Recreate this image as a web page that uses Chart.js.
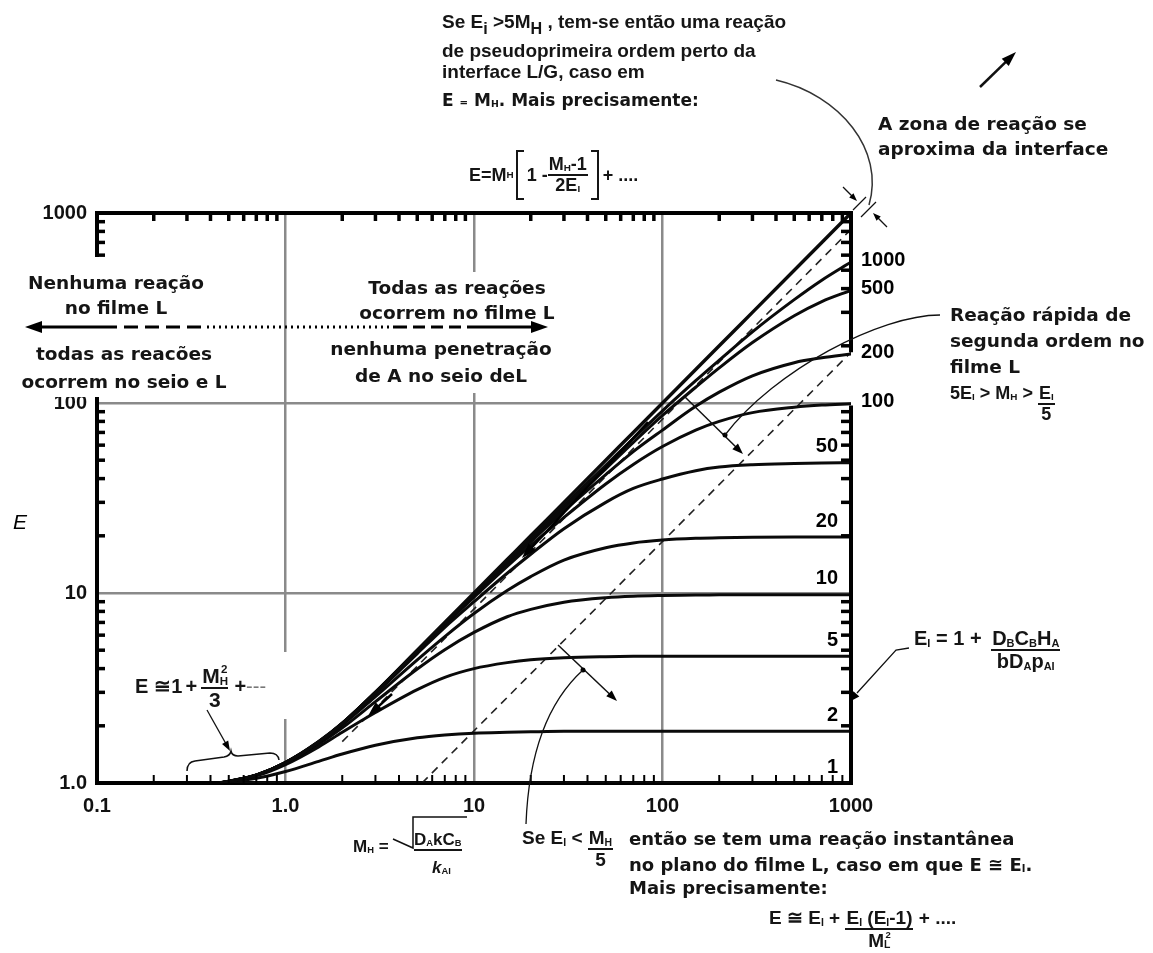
<!DOCTYPE html>
<html>
<head>
<meta charset="utf-8">
<script src="https://cdn.jsdelivr.net/npm/chart.js@4.4.1/dist/chart.umd.min.js"></script>
<style>
  html, body { margin: 0; padding: 0; background: #fff; }
  #wrap { position: relative; width: 1153px; height: 953px; overflow: hidden; }
  #chart { position: absolute; left: 0; top: 0; }
  .t { position: absolute; white-space: nowrap; color: #151515; line-height: 1; }
  .ls { font-family: "Liberation Sans", Arial, sans-serif; font-weight: bold; }
  .dv { font-family: "DejaVu Sans", sans-serif; font-weight: bold; }
  .t sub { font-size: 0.55em; vertical-align: -0.15em; line-height: 0; }
  .big sub { font-size: 0.85em; vertical-align: -0.35em; }
  .fr { display: inline-flex; flex-direction: column; align-items: center; line-height: 1.05; }
  .fr > span:first-child { border-bottom: 2px solid #151515; padding: 0 1px; }
  .mid { vertical-align: middle; }
  .top { vertical-align: top; }
  .brk { display: inline-block; width: 6px; height: 46px; border: 2px solid #151515; vertical-align: middle; }
  .brk.l { border-right: none; margin: 0 3px 0 2px; }
  .brk.r { border-left: none; margin: 0 4px 0 3px; }
  .c { text-align: center; }
</style>
</head>
<body>
<div id="wrap">
  <canvas id="chart" width="1153" height="953"></canvas>

  <div class="t ls big" style="left:442px;top:12px;font-size:19px">Se E<sub>i</sub> &gt;5M<sub>H</sub> , tem-se então uma reação</div>
  <div class="t ls" style="left:442px;top:41px;font-size:19px">de pseudoprimeira ordem perto da</div>
  <div class="t ls" style="left:442px;top:62px;font-size:19px">interface L/G, caso em</div>
  <div class="t dv" style="left:442px;top:92px;font-size:17px">E <span style="font-size:0.6em">=</span> M<sub>H</sub>. Mais precisamente:</div>
  <div class="t ls" style="left:469px;top:150px;font-size:18px;height:50px;display:flex;align-items:center">
    E=M<sub>H</sub><span class="brk l"></span>1 - <span class="fr"><span>M<sub>H</sub>-1</span><span>2E<sub>I</sub></span></span><span class="brk r"></span>+ ....
  </div>

  <div class="t dv" style="left:878px;top:111px;font-size:18.5px;line-height:25px">A zona de reação se<br>aproxima da interface</div>

  <div class="t dv c" style="left:1px;top:270px;width:230px;font-size:18.5px;line-height:25px">Nenhuma reação<br>no filme L</div>
  <div class="t dv c" style="left:9px;top:340px;width:230px;font-size:18.5px;line-height:28px">todas as reacões<br>ocorrem no seio e L</div>
  <div class="t dv c" style="left:342px;top:275px;width:230px;font-size:18.5px;line-height:25px">Todas as reações<br>ocorrem no filme L</div>
  <div class="t dv c" style="left:326px;top:335px;width:230px;font-size:18.5px;line-height:27px">nenhuma penetração<br>de A no seio deL</div>

  <div class="t dv" style="left:950px;top:302px;font-size:18.5px;line-height:26px">Reação rápida de<br>segunda ordem no<br>filme L</div>
  <div class="t ls" style="left:950px;top:384px;font-size:18px">5E<sub>I</sub> &gt; M<sub>H</sub> &gt; <span class="fr top"><span>E<sub>I</sub></span><span>5</span></span></div>

  <div class="t ls" style="left:914px;top:628px;font-size:20px">E<sub>I</sub> = 1 + <span class="fr top" style="margin-left:4px"><span>D<sub>B</sub>C<sub>B</sub>H<sub>A</sub></span><span>bD<sub>A</sub>p<sub>AI</sub></span></span></div>

  <div class="t ls" style="left:135px;top:663px;font-size:20px">E<span style="margin-left:6px">≅</span>1<span style="margin:0 4px 0 3px">+</span><span class="fr mid" style="font-size:21px"><span>M<sub>H</sub><sup style="font-size:0.55em;margin-left:-7px;vertical-align:0.9em">2</sup></span><span>3</span></span><span style="margin-left:6px">+</span><span style="color:#777;font-weight:normal">---</span></div>

  <div class="t ls" style="left:353px;top:838px;font-size:17px">M<sub>H</sub> =</div>
  <div class="t ls" style="left:414px;top:831px;font-size:17px;border-bottom:2px solid #151515;padding-bottom:1px">D<sub>A</sub>kC<sub>B</sub></div>
  <div class="t ls" style="left:432px;top:859px;font-size:17px;font-style:italic">k<sub style="font-style:normal">AI</sub></div>

  <div class="t ls" style="left:522px;top:828px;font-size:19px">Se E<sub>I</sub> &lt; <span class="fr top"><span>M<sub>H</sub></span><span>5</span></span></div>
  <div class="t dv" style="left:629px;top:830px;font-size:18px">então se tem uma reação instantânea</div>
  <div class="t dv" style="left:629px;top:856px;font-size:18px">no plano do filme L, caso em que E ≅ E<sub>I</sub>.</div>
  <div class="t dv" style="left:629px;top:879px;font-size:18px">Mais precisamente:</div>
  <div class="t ls" style="left:769px;top:908px;font-size:19px">E ≅ E<sub>I</sub> + <span class="fr top"><span>E<sub>I</sub> (E<sub>I</sub>-1)</span><span>M<sub>L</sub><sup style="font-size:0.5em;margin-left:-5px;vertical-align:0.9em">2</sup></span></span> + ....</div>
</div>

<script>
// Hatta number M_H at which each curve is read
const mH = [0.45, 0.7, 1, 1.5, 2, 3, 5, 7, 10, 15, 20, 30, 50, 70, 100, 150, 200, 300, 500, 700, 1000];

// enhancement factor E along each curve, one list per value of E_i
const eInf  = [1.0, 1.1, 1.28, 1.65, 2.06, 3.0, 5.0, 7.0, 10, 15, 20, 30, 50, 70, 100, 150, 200, 300, 500, 700, 1000];
const e1000 = [1.0, 1.1, 1.28, 1.65, 2.06, 3.0, 4.98, 6.97, 9.85, 14.7, 19.4, 28.8, 47, 65, 91, 131, 168, 237, 350, 443, 552];
const e500  = [1.0, 1.1, 1.28, 1.65, 2.06, 3.0, 4.97, 6.95, 9.8, 14.5, 19.2, 28, 45, 62, 86, 121, 153, 208, 288, 342, 392];
const e200  = [1.0, 1.1, 1.28, 1.64, 2.06, 3.0, 4.95, 6.9, 9.6, 14.2, 18.6, 27, 42, 55.5, 72, 96, 114, 139, 163, 173, 181];
const e100  = [1.0, 1.1, 1.28, 1.64, 2.06, 3.0, 4.9, 6.8, 9.5, 13.8, 17.8, 25, 37.5, 47.5, 59, 72, 80, 89, 95, 97.5, 99];
const e50   = [1.0, 1.1, 1.28, 1.64, 2.05, 2.95, 4.8, 6.6, 9.0, 12.7, 16.0, 21.8, 30, 35.5, 39.8, 44, 46, 47.3, 48, 48.3, 48.5];
const e20   = [1.0, 1.1, 1.28, 1.63, 2.02, 2.85, 4.45, 5.9, 7.8, 10.3, 12.2, 14.9, 17.3, 18.35, 19.0, 19.4, 19.55, 19.65, 19.7, 19.7, 19.7];
const e10   = [1.0, 1.1, 1.27, 1.6, 1.95, 2.68, 3.98, 5.03, 6.2, 7.5, 8.2, 8.95, 9.45, 9.62, 9.7, 9.75, 9.8, 9.8, 9.8, 9.8, 9.8];
const e5    = [1.0, 1.09, 1.25, 1.55, 1.85, 2.35, 3.1, 3.6, 4.0, 4.3, 4.45, 4.56, 4.62, 4.64, 4.65, 4.65, 4.65, 4.65, 4.65, 4.65, 4.65];
const e2    = [1.0, 1.06, 1.15, 1.3, 1.42, 1.58, 1.73, 1.79, 1.83, 1.85, 1.86, 1.87, 1.87, 1.87, 1.87, 1.87, 1.87, 1.87, 1.87, 1.87, 1.87];
const e1    = [1, 1, 1, 1, 1, 1, 1, 1, 1, 1, 1, 1, 1, 1, 1, 1, 1, 1, 1, 1, 1];

// dashed boundary lines (E_i = 5 M_H locus and E = M_H / 5)
const upperDashM = [2, 1000];
const upperDashE = [1.65, 820];
const lowerDashM = [5.3, 1000];
const lowerDashE = [1, 185];

// axis labels
const xTicks = [0.1, 1, 10, 100, 1000];
const xTickText = ['0.1', '1.0', '10', '100', '1000'];
const yTicks = [1, 10, 100, 1000];
const yTickText = ['1.0', '10', '100', '1000'];
const gridAt = [1, 10, 100];

const pts = (xs, ys) => xs.map((v, i) => ({ x: v, y: ys[i] }));

const curves = [
  { tag: null,   vals: eInf,  w: 3.4 },
  { tag: '1000', vals: e1000, out: true },
  { tag: '500',  vals: e500,  out: true },
  { tag: '200',  vals: e200,  out: true },
  { tag: '100',  vals: e100,  out: true },
  { tag: '50',   vals: e50 },
  { tag: '20',   vals: e20 },
  { tag: '10',   vals: e10 },
  { tag: '5',    vals: e5 },
  { tag: '2',    vals: e2 },
  { tag: '1',    vals: e1 }
];

const datasets = curves.map(c => ({
  data: pts(mH, c.vals),
  tag: c.tag,
  out: !!c.out,
  borderColor: '#0a0a0a',
  borderWidth: c.w || 3,
  pointRadius: 0,
  fill: false,
  cubicInterpolationMode: 'monotone'
}));
datasets.push({
  data: pts(upperDashM, upperDashE), borderColor: '#222', borderWidth: 1.6,
  borderDash: [8, 6], pointRadius: 0, fill: false
});
datasets.push({
  data: pts(lowerDashM, lowerDashE), borderColor: '#222', borderWidth: 1.6,
  borderDash: [8, 6], pointRadius: 0, fill: false
});

function head(ctx, x1, y1, x2, y2, len, wid) {
  const a = Math.atan2(y2 - y1, x2 - x1);
  const c = Math.cos(a), s = Math.sin(a);
  ctx.beginPath();
  ctx.moveTo(x2, y2);
  ctx.lineTo(x2 - len * c + wid * s, y2 - len * s - wid * c);
  ctx.lineTo(x2 - len * c - wid * s, y2 - len * s + wid * c);
  ctx.closePath();
  ctx.fill();
}

function arrow(ctx, x1, y1, x2, y2, lw, len, wid) {
  const a = Math.atan2(y2 - y1, x2 - x1);
  ctx.lineWidth = lw;
  ctx.beginPath();
  ctx.moveTo(x1, y1);
  ctx.lineTo(x2 - len * 0.8 * Math.cos(a), y2 - len * 0.8 * Math.sin(a));
  ctx.stroke();
  head(ctx, x1, y1, x2, y2, len, wid);
}

function seg(ctx, x1, y1, x2, y2, dash) {
  ctx.setLineDash(dash || []);
  ctx.beginPath();
  ctx.moveTo(x1, y1);
  ctx.lineTo(x2, y2);
  ctx.stroke();
  ctx.setLineDash([]);
}

const annotate = {
  id: 'annotate',
  afterDraw(chart) {
    const { ctx, chartArea: a, scales: { x, y } } = chart;
    const X = v => x.getPixelForValue(v), Y = v => y.getPixelForValue(v);
    ctx.save();
    ctx.strokeStyle = '#000';
    ctx.fillStyle = '#000';

    // top and right edges of the frame
    ctx.lineWidth = 4;
    seg(ctx, a.left - 2, a.top, a.right + 2, a.top);
    seg(ctx, a.right, a.top - 2, a.right, Y(185));
    seg(ctx, a.right, Y(97), a.right, a.bottom + 2);

    // minor ticks pointing into the plot
    for (let d = 0.1; d < 999; d *= 10) {
      for (let m = 2; m < 10; m++) {
        const px = X(d * m);
        ctx.lineWidth = 3.5; seg(ctx, px, a.top, px, a.top + 8);
        ctx.lineWidth = 2;   seg(ctx, px, a.bottom, px, a.bottom - 8);
      }
    }
    for (let d = 1; d < 999; d *= 10) {
      for (let m = 2; m < 10; m++) {
        const py = Y(d * m);
        ctx.lineWidth = 3.5;
        seg(ctx, a.left, py, a.left + 8, py);
        if (py < Y(185) || py > Y(97)) seg(ctx, a.right, py, a.right - 10, py);
      }
    }

    // paper showing through behind the text blocks
    ctx.fillStyle = '#fff';
    ctx.fillRect(18, 257, 218, 140);
    ctx.fillRect(330, 272, 232, 121);
    ctx.fillRect(130, 652, 160, 67);
    ctx.fillStyle = '#000';

    // E_i labels at the end of each curve
    ctx.font = 'bold 20px "Liberation Sans", Arial, sans-serif';
    ctx.textBaseline = 'middle';
    chart.data.datasets.forEach(ds => {
      if (!ds.tag) return;
      const yEnd = Y(ds.data[ds.data.length - 1].y);
      if (ds.out) {
        ctx.textAlign = 'left';
        ctx.fillText(ds.tag, a.right + 10, yEnd - 2);
      } else {
        ctx.textAlign = 'right';
        ctx.fillText(ds.tag, a.right - 13, yEnd - 16);
      }
    });

    // axis title
    ctx.font = 'italic 21px "Liberation Sans", Arial, sans-serif';
    ctx.textAlign = 'center';
    ctx.fillText('E', 20, 523);

    // film-regime arrow across the top
    const ya = 327;
    ctx.lineWidth = 3;
    head(ctx, 60, ya, 25, ya, 17, 6);
    seg(ctx, 40, ya, 103, ya);
    seg(ctx, 103, ya, 207, ya, [14, 7]);
    seg(ctx, 207, ya, 395, ya, [2, 4]);
    seg(ctx, 395, ya, 467, ya, [12, 6]);
    seg(ctx, 467, ya, 532, ya);
    head(ctx, 500, ya, 548, ya, 17, 6);

    // arrows along the curve family
    arrow(ctx, 648, 422, 522, 558, 2.5, 15, 5);
    arrow(ctx, 392, 694, 368, 716, 2.5, 15, 5);

    // perpendicular arrows and their pointers
    ctx.strokeStyle = '#111';
    arrow(ctx, 685, 397, 743, 454, 1.5, 11, 4);
    arrow(ctx, 558, 645, 617, 701, 1.5, 11, 4);
    ctx.beginPath(); ctx.arc(725, 435, 2.5, 0, Math.PI * 2); ctx.fill();
    ctx.beginPath(); ctx.arc(583, 670, 2.5, 0, Math.PI * 2); ctx.fill();

    ctx.lineWidth = 1.3;
    ctx.beginPath();
    ctx.moveTo(940, 315);
    ctx.bezierCurveTo(880, 315, 775, 370, 725, 435);
    ctx.stroke();
    ctx.beginPath();
    ctx.moveTo(526, 824);
    ctx.quadraticCurveTo(530, 718, 583, 670);
    ctx.stroke();

    // pointer to the E_i value on the right axis
    ctx.beginPath();
    ctx.moveTo(909, 648);
    ctx.lineTo(896, 650);
    ctx.lineTo(857, 693);
    ctx.stroke();
    head(ctx, 896, 650, 849, 702, 11, 4);

    // top-right: pointer arc and reaction-zone marks at the corner
    ctx.lineWidth = 1.5;
    ctx.strokeStyle = '#333';
    ctx.beginPath();
    ctx.moveTo(776, 80);
    ctx.bezierCurveTo(840, 95, 885, 150, 869, 205);
    ctx.stroke();
    ctx.strokeStyle = '#111';
    arrow(ctx, 843, 187, 857, 201, 1.3, 8, 3);
    arrow(ctx, 887, 227, 873, 213, 1.3, 8, 3);
    seg(ctx, 853, 210, 866, 197);
    seg(ctx, 861, 217, 876, 202);
    arrow(ctx, 980, 87, 1016, 52, 2.5, 15, 5);

    // bracket and arrow for the small-M_H expansion
    ctx.lineWidth = 1.5;
    ctx.beginPath();
    ctx.moveTo(187, 771);
    ctx.quadraticCurveTo(187, 762, 195, 761);
    ctx.lineTo(224, 757);
    ctx.quadraticCurveTo(230, 756, 231, 751);
    ctx.quadraticCurveTo(232, 756, 238, 756);
    ctx.lineTo(270, 753);
    ctx.quadraticCurveTo(278, 753, 279, 760);
    ctx.stroke();
    arrow(ctx, 207, 710, 230, 751, 1.3, 10, 3.5);

    // radical sign of the Hatta number
    ctx.lineWidth = 1.5;
    ctx.beginPath();
    ctx.moveTo(393, 839);
    ctx.lineTo(413, 848);
    ctx.lineTo(413, 817);
    ctx.lineTo(467, 817);
    ctx.stroke();

    ctx.restore();
  }
};

new Chart(document.getElementById('chart'), {
  type: 'line',
  data: { datasets: datasets },
  options: {
    responsive: false,
    devicePixelRatio: 1,
    animation: false,
    events: [],
    layout: { padding: { left: 0, top: 213, right: 302, bottom: 0 } },
    plugins: { legend: { display: false }, tooltip: { enabled: false } },
    scales: {
      x: {
        type: 'logarithmic',
        min: 0.1,
        max: 1000,
        afterBuildTicks: s => { s.ticks = xTicks.map(v => ({ value: v })); },
        afterFit: s => { s.height = 170; },
        ticks: {
          callback: (v, i) => xTickText[i],
          font: { family: 'Liberation Sans', size: 20, weight: 'bold' },
          color: '#111',
          padding: 11,
          maxRotation: 0,
          autoSkip: false
        },
        grid: {
          color: c => gridAt.includes(c.tick && c.tick.value) ? '#8a8a8a' : 'rgba(0,0,0,0)',
          lineWidth: 2.5,
          drawTicks: false
        },
        border: { display: true, color: '#000', width: 4 }
      },
      y: {
        type: 'logarithmic',
        min: 1,
        max: 1000,
        afterBuildTicks: s => { s.ticks = yTicks.map(v => ({ value: v })); },
        afterFit: s => { s.width = 97; },
        ticks: {
          callback: (v, i) => yTickText[i],
          font: { family: 'Liberation Sans', size: 20, weight: 'bold' },
          color: '#111',
          padding: 10,
          autoSkip: false
        },
        grid: {
          color: c => gridAt.includes(c.tick && c.tick.value) ? '#8a8a8a' : 'rgba(0,0,0,0)',
          lineWidth: 2.5,
          drawTicks: false
        },
        border: { display: true, color: '#000', width: 4 }
      }
    }
  },
  plugins: [annotate]
});
</script>
</body>
</html>
